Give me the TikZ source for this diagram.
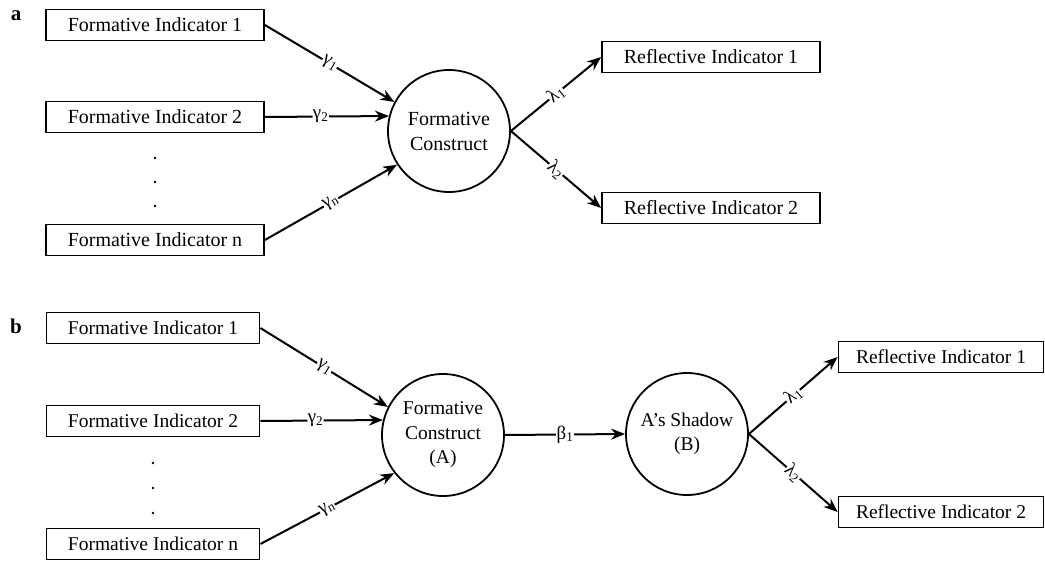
\documentclass[tikz,border=0pt]{standalone}
\usepackage{fontspec}
\setmainfont{Liberation Serif}
\usetikzlibrary{arrows.meta, positioning}

\begin{document}
\begin{tikzpicture}[x=1pt, y=-1pt,
        indicator/.style={rectangle, draw, line width=1.8pt, minimum width=218pt, minimum height=31pt, inner sep=0pt, font=\fontsize{20}{24}\selectfont},
        construct/.style={circle, draw, line width=1.8pt, minimum size=122pt, inner sep=0pt, align=center, font=\fontsize{20}{25}\selectfont},
        arrow/.style={draw, -{Stealth[length=14pt, width=11pt]}, line width=2pt},
        weight/.style={midway, sloped, fill=white, inner sep=0.4pt, font=\fontsize{19}{20}\selectfont},
        panel/.style={font=\fontsize{21}{24}\selectfont\bfseries}
        ]
        \useasboundingbox (0,0) rectangle (1045,562);

        % Panel a
        \node (labela) [panel] at (16,16) {a};
        \node (fa1) [indicator] at (155,25) {Formative Indicator 1};
        \node (fa2) [indicator] at (155,117) {Formative Indicator 2};
        \node (fan) [indicator] at (155,240) {Formative Indicator n};
        \node (ca) [construct] at (449,131) {Formative\\Construct};
        \node (ra1) [indicator] at (711,57) {Reflective Indicator 1};
        \node (ra2) [indicator] at (711,208) {Reflective Indicator 2};
        \foreach \y in {158,182,206} \fill (155,\y) circle (1.4pt);

        \draw [arrow] (fa1.east) -- node[weight] {γ\textsubscript{1}} (ca.152);
        \draw [arrow] (fa2.east) -- node[weight, pos=0.45] {γ\textsubscript{2}} (ca.166);
        \draw [arrow] (fan.east) -- node[weight] {γ\textsubscript{n}} (ca.213);
        \draw [arrow] (ca.east) -- node[weight] {λ\textsubscript{1}} (ra1.west);
        \draw [arrow] (ca.east) -- node[weight] {λ\textsubscript{2}} (ra2.west);

        % Panel b
        \node (labelb) [panel] at (16,326) {b};
        \node (fb1) [indicator, minimum width=213pt, font=\fontsize{19.5}{24}\selectfont] at (153,328) {Formative Indicator 1};
        \node (fb2) [indicator, minimum width=213pt, font=\fontsize{19.5}{24}\selectfont] at (153,421) {Formative Indicator 2};
        \node (fbn) [indicator, minimum width=213pt, font=\fontsize{19.5}{24}\selectfont] at (153,544) {Formative Indicator n};
        \node (cb) [construct, font=\fontsize{19.5}{24.5}\selectfont] at (443,435) {Formative\\Construct\\(A)};
        \node (sb) [construct, font=\fontsize{19.5}{24.5}\selectfont] at (687,434) {A’s Shadow\\(B)};
        \node (rb1) [indicator, minimum width=205pt, font=\fontsize{19.5}{24}\selectfont] at (941,357) {Reflective Indicator 1};
        \node (rb2) [indicator, minimum width=205pt, font=\fontsize{19.5}{24}\selectfont] at (941,512) {Reflective Indicator 2};
        \foreach \y in {463,488,513} \fill (153,\y) circle (1.4pt);

        \draw [arrow] (fb1.east) -- node[weight] {γ\textsubscript{1}} (cb.153);
        \draw [arrow] (fb2.east) -- node[weight, pos=0.45] {γ\textsubscript{2}} (cb.166);
        \draw [arrow] (fbn.east) -- node[weight] {γ\textsubscript{n}} (cb.218);
        \draw [arrow] (cb.east) -- node[weight] {β\textsubscript{1}} (sb.west);
        \draw [arrow] (sb.east) -- node[weight] {λ\textsubscript{1}} (rb1.west);
        \draw [arrow] (sb.east) -- node[weight] {λ\textsubscript{2}} (rb2.west);

    \end{tikzpicture}
\end{document}
